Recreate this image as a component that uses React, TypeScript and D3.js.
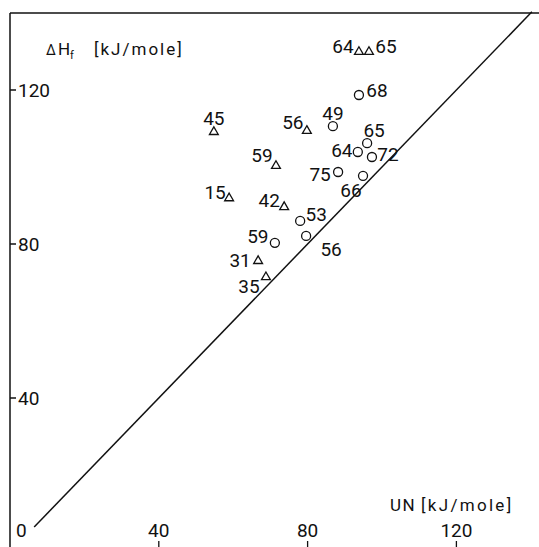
import React from "react";
import * as d3 from "d3";

// triangles
const triLabels = ["45", "56", "64", "65", "59", "15", "42", "31", "35"];
const triX = [54.8, 79.8, 93.8, 96.5, 71.5, 58.9, 73.7, 66.7, 68.8];
const triY = [109.1, 109.4, 129.9, 129.9, 100.3, 91.9, 89.6, 75.6, 71.4];

// circles
const circLabels = ["49", "68", "65", "64", "72", "75", "66", "53", "56", "59"];
const circX = [86.8, 93.8, 96.0, 93.5, 97.3, 88.2, 94.9, 78.0, 79.6, 71.2];
const circY = [110.6, 118.7, 106.2, 103.9, 102.6, 98.7, 97.7, 86.0, 82.1, 80.3];

const xTicks = [40, 80, 120];
const yTicks = [40, 80, 120];

// label offsets from marker (px) - layout only
const triLabelOff = [[0, -14], [-14, -9], [-16, -6], [17, -6], [-14, -11], [-14, -6], [-15, -7], [-18, -1], [-17, 9]];
const circLabelOff = [[0, -13], [18, -5], [7, -13], [-16, -2], [16, -3], [-18, 2], [-12, 14], [16, -7], [25, 13], [-17, -7]];

const W = 539;
const H = 547;
const FONT = "Roboto, 'Liberation Sans', sans-serif";
const INK = "#111";

export default function App() {
  const x = d3.scaleLinear().domain([0, 140]).range([10, 10 + 140 * 3.72]);
  const y = d3.scaleLinear().domain([0, 140]).range([552, 13]);

  const tri = d3.symbol().type(d3.symbolTriangle).size(34)();
  const circ = d3.symbol().type(d3.symbolCircle).size(64)();

  const diag = d3.line<number>().x((d) => x(d)).y((d) => y(d));

  return (
    <svg
      width={W}
      height={H}
      style={{ position: "absolute", left: 0, top: 0, background: "#fff" }}
      fontFamily={FONT}
    >
      {/* frame */}
      <line x1={x(0)} x2={W} y1={y(140)} y2={y(140)} stroke={INK} strokeWidth={1.5} />
      <line x1={x(0)} x2={x(0)} y1={y(140)} y2={H} stroke={INK} strokeWidth={1.5} />

      {/* y ticks */}
      {yTicks.map((t) => (
        <g key={"y" + t}>
          <line x1={x(0)} x2={x(0) + 6} y1={y(t)} y2={y(t)} stroke={INK} strokeWidth={1.5} />
          <text x={x(0) + 8} y={y(t)} dy="0.36em" fontSize={19} fill={INK}>
            {t}
          </text>
        </g>
      ))}

      {/* x ticks */}
      {xTicks.map((t) => (
        <g key={"x" + t}>
          <line x1={x(t)} x2={x(t)} y1={H} y2={H - 6} stroke={INK} strokeWidth={1.3} />
          <text x={x(t)} y={H - 10} textAnchor="middle" fontSize={19} fill={INK}>
            {t}
          </text>
        </g>
      ))}
      <text x={x(0) + 6} y={H - 10} fontSize={19} fill={INK}>
        0
      </text>

      {/* axis titles */}
      <text x={46} y={55} fontSize={17} fill={INK}>
        <tspan fontSize={14}>Δ</tspan>
        <tspan dx={2}>H</tspan>
        <tspan fontSize={11} dy={4}>f</tspan>
        <tspan x={94} dy={-4} letterSpacing={2}>[kJ/mole]</tspan>
      </text>
      <text x={390} y={511} fontSize={17} fill={INK}>
        <tspan letterSpacing={1.5}>UN</tspan>
        <tspan x={421} letterSpacing={2.3}>[kJ/mole]</tspan>
      </text>

      {/* y = x line */}
      <path d={diag([6.5, 140.3]) ?? ""} stroke={INK} strokeWidth={1.5} fill="none" />

      {/* triangles */}
      {triLabels.map((lab, i) => (
        <g key={"t" + i}>
          <path d={tri ?? ""} transform={`translate(${x(triX[i])},${y(triY[i])})`} fill="none" stroke={INK} strokeWidth={1.3} />
          <text
            x={x(triX[i]) + triLabelOff[i][0]}
            y={y(triY[i]) + triLabelOff[i][1]}
            dy="0.36em"
            textAnchor="middle"
            fontSize={19}
            fill={INK}
          >
            {lab}
          </text>
        </g>
      ))}

      {/* circles */}
      {circLabels.map((lab, i) => (
        <g key={"c" + i}>
          <path d={circ ?? ""} transform={`translate(${x(circX[i])},${y(circY[i])})`} fill="none" stroke={INK} strokeWidth={1.3} />
          <text
            x={x(circX[i]) + circLabelOff[i][0]}
            y={y(circY[i]) + circLabelOff[i][1]}
            dy="0.36em"
            textAnchor="middle"
            fontSize={19}
            fill={INK}
          >
            {lab}
          </text>
        </g>
      ))}
    </svg>
  );
}
